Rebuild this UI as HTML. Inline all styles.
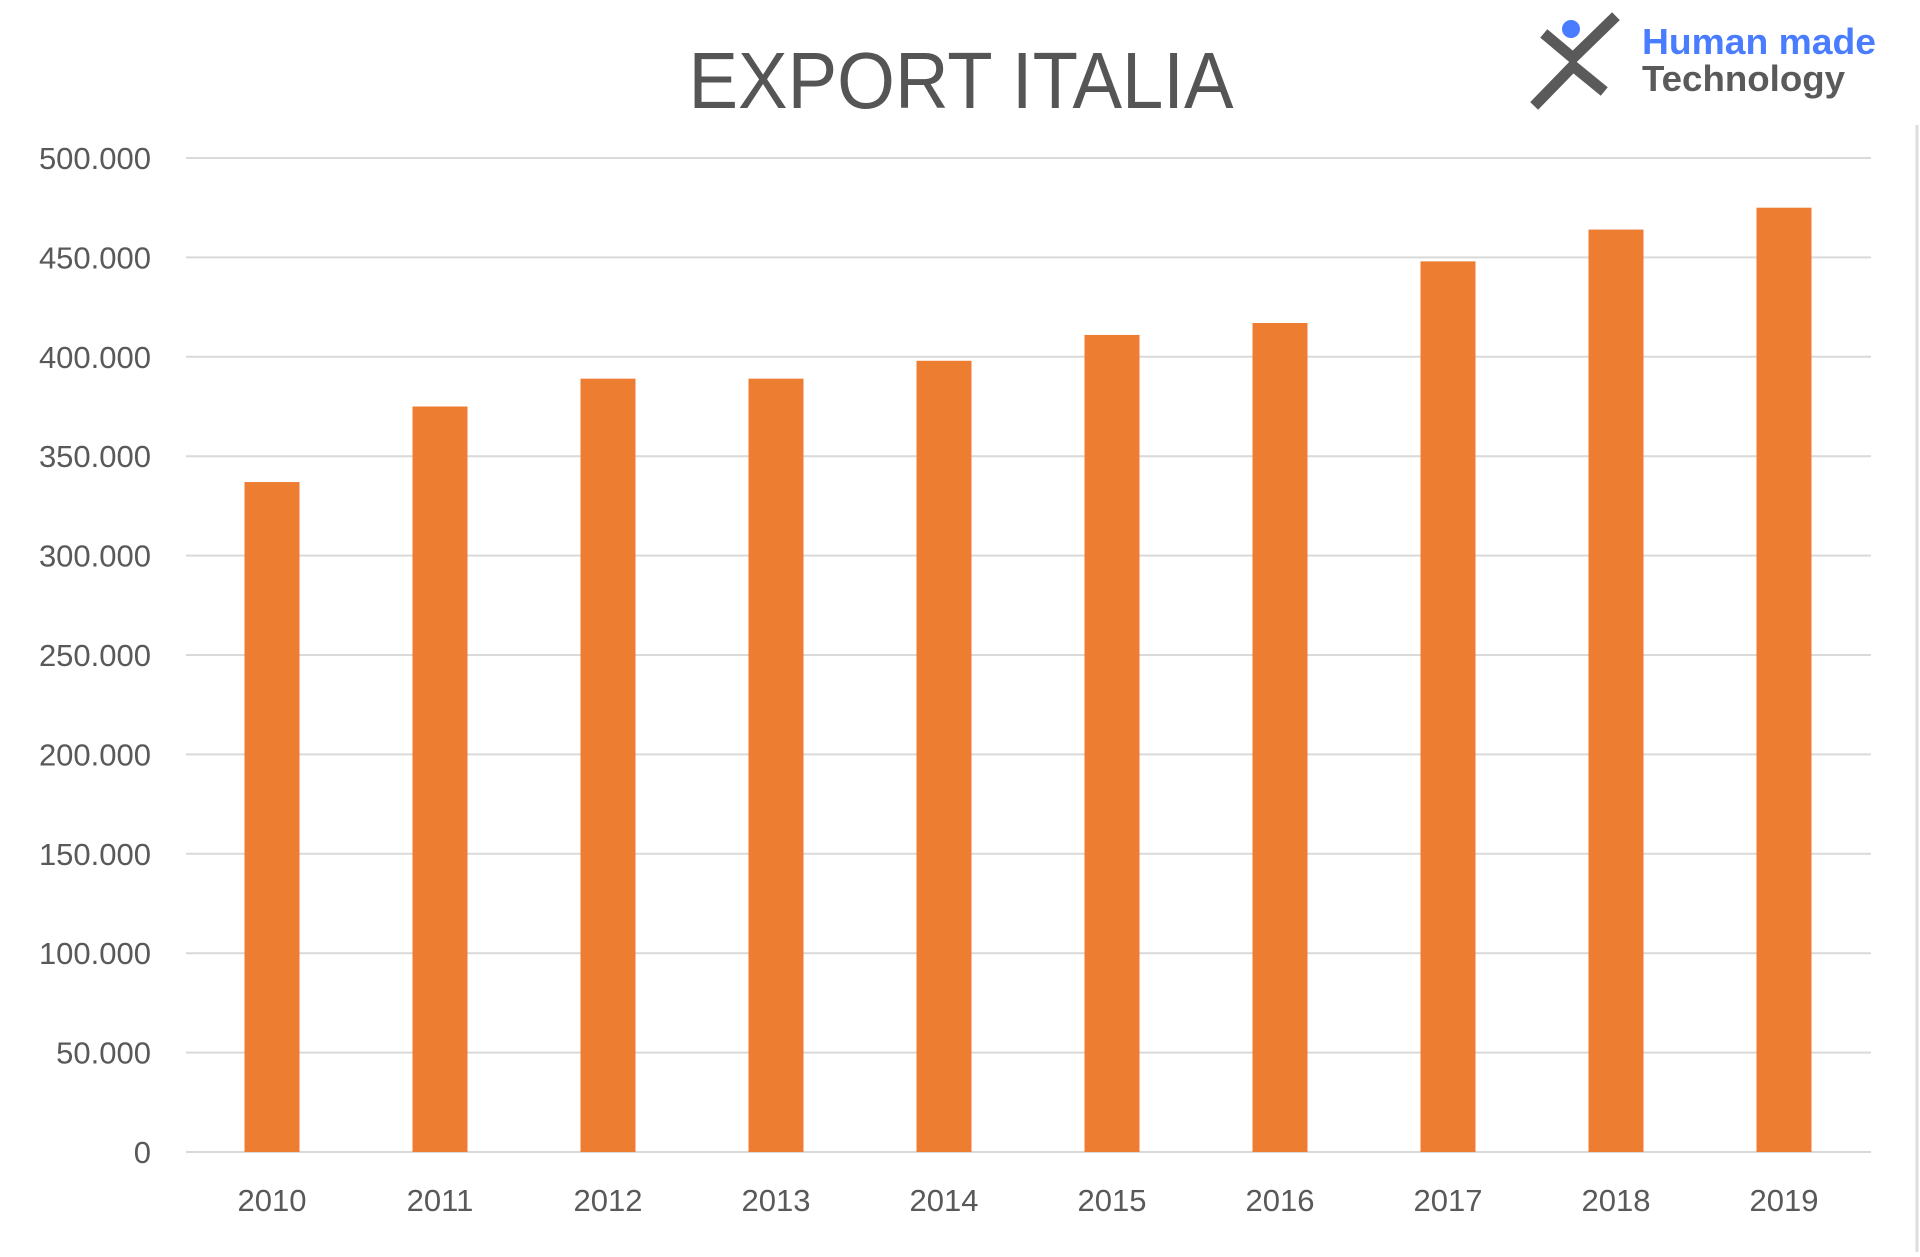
<!DOCTYPE html>
<html><head><meta charset="utf-8"><style>
body{margin:0;background:#fff;width:1920px;height:1252px;overflow:hidden;font-family:"Liberation Sans",sans-serif}
</style></head><body>
<svg width="1920" height="1252">
<text x="961" y="108" text-anchor="middle" font-size="80" textLength="545" lengthAdjust="spacingAndGlyphs" fill="#555">EXPORT ITALIA</text>
<g>
<circle cx="1571" cy="29" r="9" fill="#4a7cff"/>
<path d="M1548 37 L1573 58 L1612 20" stroke="#5a5a5a" stroke-width="11" fill="none" stroke-linecap="square"/>
<path d="M1538 102 L1573 66 L1600 88" stroke="#5a5a5a" stroke-width="11" fill="none" stroke-linecap="square"/>
<text x="1642" y="54" font-size="36" font-weight="bold" fill="#4a7cff" textLength="234" lengthAdjust="spacingAndGlyphs">Human made</text>
<text x="1642" y="91" font-size="36" font-weight="bold" fill="#5a5a5a" textLength="203" lengthAdjust="spacingAndGlyphs">Technology</text>
</g>
<line x1="1917" y1="125" x2="1917" y2="1252" stroke="#ddd" stroke-width="3"/>
<g id="grid"></g><g id="bars"></g><g id="ylabels"></g><g id="xlabels"></g>
</svg>
<script>
const categories=["2010","2011","2012","2013","2014","2015","2016","2017","2018","2019"];
const values=[337000,375000,389000,389000,398000,411000,417000,448000,464000,475000];
const yTicks=[0,50000,100000,150000,200000,250000,300000,350000,400000,450000,500000];
const yTickLabels=["0","50.000","100.000","150.000","200.000","250.000","300.000","350.000","400.000","450.000","500.000"];
const NS="http://www.w3.org/2000/svg";
const x0=186,x1=1871,yTop=158,yBot=1152,yMax=500000;
const y=v=>yBot-(v/yMax)*(yBot-yTop);
const step=168;
const xc=i=>x0+86+step*i;
function mk(t,a,p){const e=document.createElementNS(NS,t);for(const k in a)e.setAttribute(k,a[k]);document.getElementById(p).appendChild(e);return e;}
yTicks.forEach((t,i)=>{
 const l=mk('line',{x1:x0,x2:x1,y1:y(t),y2:y(t),stroke:'#d9d9d9','stroke-width':2},'grid');
 
 
 const tx=mk('text',{x:151,y:y(t)+11,'text-anchor':'end','font-size':31,fill:'#595959'},'ylabels');
 tx.textContent=yTickLabels[i];
 
 
});
categories.forEach((c,i)=>{
 const b=mk('rect',{x:xc(i)-27.5,y:y(values[i]),width:55,height:yBot-y(values[i]),fill:'#ed7d31'},'bars');
 
 
 const tx=mk('text',{x:xc(i),y:1211,'text-anchor':'middle','font-size':31,fill:'#595959'},'xlabels');
 tx.textContent=c;
 
 
});
</script>
</body></html>
